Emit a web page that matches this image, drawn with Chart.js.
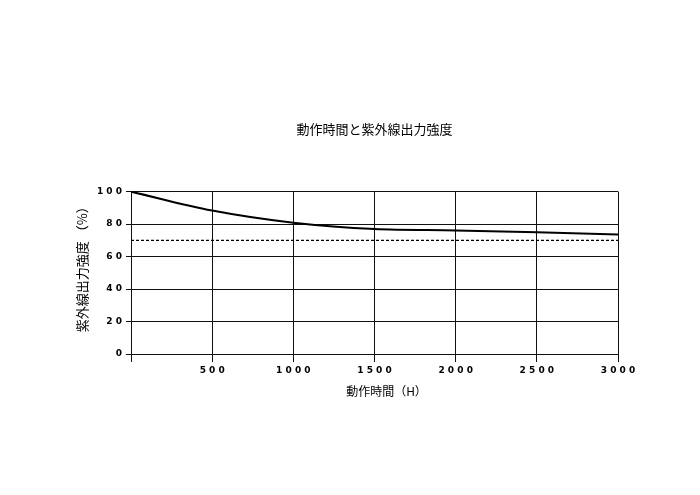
<!DOCTYPE html>
<html>
<head>
<meta charset="utf-8">
<script src="https://cdn.jsdelivr.net/npm/chart.js@4/dist/chart.umd.min.js"></script>
<style>
  html, body { margin: 0; padding: 0; background: #fff; }
  #wrap { position: relative; width: 700px; height: 495px; }
</style>
</head>
<body>
<div id="wrap"><canvas id="chart" width="700" height="495"></canvas></div>
<script>
// データ
const hours = [0, 500, 1000, 1500, 2000, 2500, 3000];
const intensity = [100, 88.3, 80.8, 76.9, 76.1, 75.0, 73.6];
const limitHours = [0, 3000];
const limitValue = [70, 70];
const xTicks = [0, 500, 1000, 1500, 2000, 2500, 3000];
const yTicks = [0, 20, 40, 60, 80, 100];

const chartTitle = '動作時間と紫外線出力強度';
const xTitle = '動作時間（H）';
const yTitle = '紫外線出力強度 （%）';

const jp = '"Noto Sans CJK JP", "Noto Sans", sans-serif';
const tickFont = { family: '"DejaVu Sans", sans-serif', size: 9, weight: 'bold' };

// 数字の間にスペース
function spaced(v) {
    return String(v).split('').join(' ');
}

new Chart(document.getElementById('chart').getContext('2d'), {
    type: 'line',
    data: {
        datasets: [{
            data: hours.map((h, i) => ({ x: h, y: intensity[i] })),
            borderColor: '#000',
            borderWidth: 2,
            pointRadius: 0,
            fill: false,
            cubicInterpolationMode: 'monotone'
        }, {
            data: limitHours.map((h, i) => ({ x: h, y: limitValue[i] })),
            borderColor: '#000',
            borderWidth: 1.2,
            borderDash: [3, 2],
            pointRadius: 0,
            fill: false
        }]
    },
    options: {
        responsive: false,
        animation: false,
        layout: { padding: { left: 74, right: 82, top: 121, bottom: 96 } },
        plugins: {
            legend: { display: false },
            tooltip: { enabled: false },
            title: {
                display: true,
                text: chartTitle,
                fullSize: false,
                color: '#000',
                font: { family: jp, size: 13, weight: 'normal' },
                padding: { top: 0, bottom: 55 }
            }
        },
        scales: {
            x: {
                type: 'linear',
                min: 0,
                max: 3000,
                afterBuildTicks: s => { s.ticks = xTicks.map(v => ({ value: v })); },
                afterFit: s => { s.height = 45; },
                ticks: {
                    color: '#000',
                    font: tickFont,
                    padding: 3,
                    maxRotation: 0,
                    callback: v => v === 0 ? '' : spaced(v)
                },
                grid: { color: '#111', lineWidth: 1, tickLength: 8, tickColor: '#111' },
                border: { color: '#111' },
                title: {
                    display: true,
                    text: '　　' + xTitle,
                    color: '#000',
                    font: { family: jp, size: 12 },
                    padding: { top: 6, bottom: 0 }
                }
            },
            y: {
                min: 0,
                max: 100,
                afterBuildTicks: s => { s.ticks = yTicks.map(v => ({ value: v })); },
                afterFit: s => { s.width = 57; },
                ticks: {
                    color: '#000',
                    font: tickFont,
                    padding: 4,
                    callback: v => spaced(v)
                },
                grid: { color: '#111', lineWidth: 1, tickLength: 5, tickColor: '#111' },
                border: { color: '#111' },
                title: {
                    display: true,
                    text: '　' + yTitle,
                    color: '#000',
                    font: { family: jp, size: 13 },
                    padding: { top: 0, bottom: 0 }
                }
            }
        }
    }
});
</script>
</body>
</html>
